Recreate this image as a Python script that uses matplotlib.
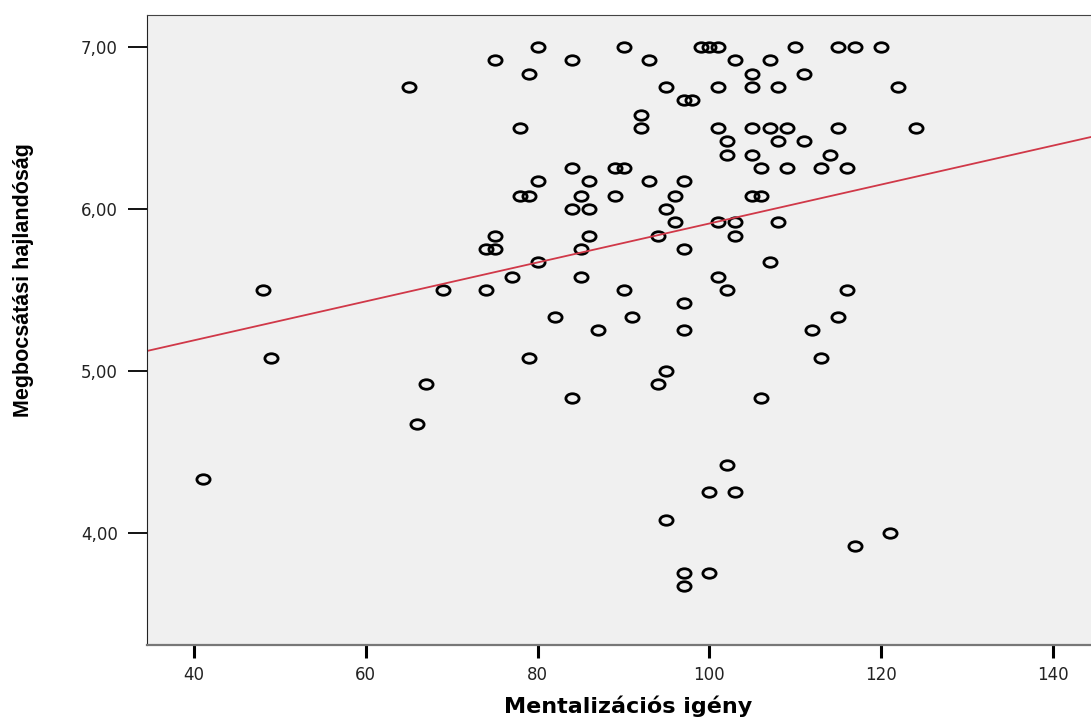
import numpy as np
import matplotlib
matplotlib.use('Agg')
import matplotlib.pyplot as plt
from matplotlib.path import Path
from matplotlib.transforms import Affine2D

# Mentalizációs igény (x) and Megbocsátási hajlandóság (y)
mentalizacio = [
    80, 90, 99, 100, 101, 110, 115, 117, 120,
    75, 84, 93, 103, 107,
    79, 105, 111,
    65, 95, 101, 105, 108, 122,
    97, 98,
    92,
    78, 92, 101, 105, 107, 109, 115, 124,
    102, 108, 111,
    102, 105, 114,
    84, 89, 90, 106, 109, 113, 116,
    80, 86, 93, 97,
    78, 79, 85, 89, 96, 105, 106,
    84, 86, 95,
    96, 101, 103, 108,
    75, 86, 94, 103,
    74, 75, 85, 97,
    80, 107,
    77, 85, 101,
    48, 69, 74, 90, 102, 116,
    97,
    82, 91, 115,
    87, 97, 112,
    49, 79, 113,
    95,
    67, 94,
    84, 106,
    66,
    102,
    41,
    100, 103,
    95,
    121,
    117,
    97, 100,
    97,
]
megbocsatas = (
    [7.00] * 9 + [6.92] * 5 + [6.83] * 3 + [6.75] * 6 + [6.67] * 2 + [6.58] * 1
    + [6.50] * 8 + [6.42] * 3 + [6.33] * 3 + [6.25] * 7 + [6.17] * 4 + [6.08] * 7
    + [6.00] * 3 + [5.92] * 4 + [5.83] * 4 + [5.75] * 4 + [5.67] * 2 + [5.58] * 3
    + [5.50] * 6 + [5.42] * 1 + [5.33] * 3 + [5.25] * 3 + [5.08] * 3 + [5.00] * 1
    + [4.92] * 2 + [4.83] * 2 + [4.67] * 1 + [4.42] * 1 + [4.33] * 1 + [4.25] * 2
    + [4.08] * 1 + [4.00] * 1 + [3.92] * 1 + [3.75] * 2 + [3.67] * 1
)

# fit line as drawn in the chart (some points overlap, so read it off the picture)
fit_intercept = 4.707
fit_slope = 0.01202

x_ticks = [40, 60, 80, 100, 120, 140]
y_ticks = [4, 5, 6, 7]
y_tick_labels = ['4,00', '5,00', '6,00', '7,00']

x = np.array(mentalizacio, dtype=float)
y = np.array(megbocsatas, dtype=float)

fig = plt.figure(figsize=(10.91, 7.18), dpi=100)
ax = fig.add_axes([147 / 1091, 1 - 645 / 718, 1 - 147 / 1091, (645 - 15) / 718])
ax.set_facecolor('#f0f0f0')

# flattened open circle, like the SPSS marker
ellipse = Path.unit_circle().transformed(Affine2D().scale(1.0, 0.72))
ax.plot(x, y, linestyle='none', marker=ellipse, markersize=9.5,
        markerfacecolor='none', markeredgecolor='black', markeredgewidth=2.0)

xlim = (34.53, 144.42)
xs = np.array(xlim)
ax.plot(xs, fit_intercept + fit_slope * xs, color='#d03848', linewidth=1.3)

ax.set_xlim(*xlim)
ax.set_ylim(3.307, 7.196)

ax.set_xticks(x_ticks)
ax.set_yticks(y_ticks)
ax.set_yticklabels(y_tick_labels)
ax.tick_params(axis='x', length=9, width=2.2, pad=6, labelsize=12, color='black')
ax.tick_params(axis='y', length=14, width=1.3, pad=7, labelsize=12, color='black')
for lab in ax.get_xticklabels() + ax.get_yticklabels():
    lab.set_family('DejaVu Sans')
    lab.set_color('#222222')

ax.spines['right'].set_visible(False)
ax.spines['top'].set_color('#444444')
ax.spines['left'].set_color('#222222')
ax.spines['bottom'].set_color('#777777')
ax.spines['bottom'].set_linewidth(1.6)

ax.set_xlabel('Mentalizációs igény', fontsize=16, fontweight='bold',
              family='DejaVu Sans')
ax.xaxis.set_label_coords(0.5095, -0.097)
ax.xaxis.label.set_va('center')

ax.set_ylabel('Megbocsátási hajlandóság', fontsize=15.5, fontweight='bold',
              family='Liberation Sans')
ax.yaxis.set_label_coords(-0.131, 0.579)
ax.yaxis.label.set_va('center')

fig.savefig('out.png', dpi=100)
